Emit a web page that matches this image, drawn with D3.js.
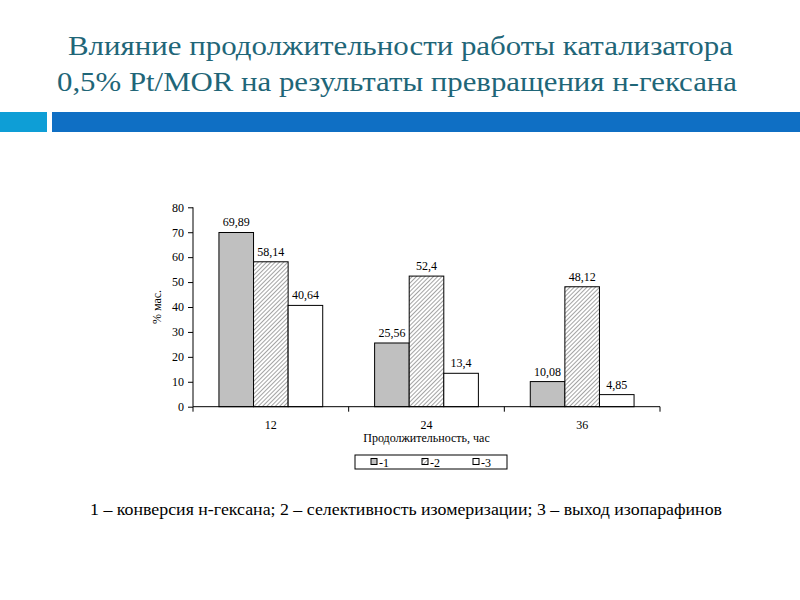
<!DOCTYPE html>
<html>
<head>
<meta charset="utf-8">
<script src="https://cdn.jsdelivr.net/npm/d3@7"></script>
<style>
    body { margin: 0; background: #fff; }
    svg { display: block; }
    svg text { font-family: "Liberation Serif", "Times New Roman", "DejaVu Serif", serif; }
</style>
</head>
<body>
<svg id="chart" width="800" height="600"></svg>
<script>
var categories = ["12", "24", "36"];
var seriesNames = ["-1", "-2", "-3"];
var conversion = [69.89, 25.56, 10.08];
var selectivity = [58.14, 52.4, 48.12];
var isoYield = [40.64, 13.4, 4.85];
var yTicks = [0, 10, 20, 30, 40, 50, 60, 70, 80];
var valueLabels = [
    ["69,89", "25,56", "10,08"],
    ["58,14", "52,4", "48,12"],
    ["40,64", "13,4", "4,85"]
];

(function() {
    var series = [conversion, selectivity, isoYield];
    var svg = d3.select("#chart");
    var fs = 12;

    // title
    var titleLines = [
        { text: "Влияние продолжительности работы катализатора", x: 68, y: 55, w: 665 },
        { text: "0,5% Pt/MOR на результаты превращения н-гексана", x: 57, y: 91, w: 680 }
    ];
    svg.selectAll("text.title")
        .data(titleLines)
        .enter().append("text")
        .attr("class", "title")
        .attr("x", function(d) { return d.x; })
        .attr("y", function(d) { return d.y; })
        .attr("textLength", function(d) { return d.w; })
        .attr("lengthAdjust", "spacingAndGlyphs")
        .attr("font-size", 28)
        .attr("fill", "#1f6678")
        .text(function(d) { return d.text; });

    // header stripe
    svg.append("rect").attr("x", 0).attr("y", 112).attr("width", 47).attr("height", 20).attr("fill", "#0e9ed6");
    svg.append("rect").attr("x", 52).attr("y", 112).attr("width", 748).attr("height", 20).attr("fill", "#0f6fc4");

    // hatch pattern
    var defs = svg.append("defs");
    var pat = defs.append("pattern")
        .attr("id", "hatch")
        .attr("patternUnits", "userSpaceOnUse")
        .attr("width", 3)
        .attr("height", 3)
        .attr("patternTransform", "rotate(45)");
    pat.append("rect").attr("width", 3).attr("height", 3).attr("fill", "#fff");
    pat.append("line")
        .attr("x1", 0.5).attr("y1", 0).attr("x2", 0.5).attr("y2", 3)
        .attr("stroke", "#9a9a9a").attr("stroke-width", 0.9);

    var fills = ["#c0c0c0", "url(#hatch)", "#ffffff"];

    // scales
    var plotLeft = 193, plotRight = 660, plotTop = 207.3, plotBottom = 406.7;

    var x0 = d3.scaleBand().domain(categories).range([plotLeft, plotRight]).padding(0);
    var x1 = d3.scaleBand().domain(d3.range(series.length)).range([0, x0.bandwidth()])
        .paddingInner(0).paddingOuter(0.75);
    var y = d3.scaleLinear().domain([0, 80]).range([plotBottom, plotTop]);

    var g = svg.append("g");

    // bars
    var groups = g.selectAll("g.cat")
        .data(categories)
        .enter().append("g")
        .attr("class", "cat")
        .attr("transform", function(d) { return "translate(" + x0(d) + ",0)"; });

    groups.each(function(cat, ci) {
        var cg = d3.select(this);
        series.forEach(function(s, si) {
            cg.append("rect")
                .attr("x", x1(si))
                .attr("y", y(s[ci]))
                .attr("width", x1.bandwidth())
                .attr("height", y(0) - y(s[ci]))
                .attr("fill", fills[si])
                .attr("stroke", "#000")
                .attr("stroke-width", 1);
            cg.append("text")
                .attr("x", x1(si) + x1.bandwidth() / 2)
                .attr("y", y(s[ci]) - 6)
                .attr("text-anchor", "middle")
                .attr("font-size", fs)
                .text(valueLabels[si][ci]);
        });
    });

    // y axis
    var yAxis = d3.axisLeft(y).tickValues(yTicks).tickSize(5).tickPadding(4);
    var ya = g.append("g")
        .attr("transform", "translate(" + plotLeft + ",0)")
        .call(yAxis);
    ya.attr("font-family", null).attr("font-size", fs);
    ya.select(".domain").attr("d", "M0," + plotTop + "V" + plotBottom);
    ya.selectAll("text").attr("fill", "#000");

    // x axis: line with ticks at category boundaries
    var xa = g.append("g");
    xa.append("line")
        .attr("x1", plotLeft).attr("x2", plotRight).attr("y1", plotBottom).attr("y2", plotBottom)
        .attr("stroke", "#000");
    var bounds = categories.map(function(c) { return x0(c); }).concat([plotRight]);
    xa.selectAll("line.tick")
        .data(bounds)
        .enter().append("line")
        .attr("class", "tick")
        .attr("x1", function(d) { return d; })
        .attr("x2", function(d) { return d; })
        .attr("y1", plotBottom)
        .attr("y2", plotBottom + 5)
        .attr("stroke", "#000");
    xa.selectAll("text.cat")
        .data(categories)
        .enter().append("text")
        .attr("class", "cat")
        .attr("x", function(d) { return x0(d) + x0.bandwidth() / 2; })
        .attr("y", 429)
        .attr("text-anchor", "middle")
        .attr("font-size", fs)
        .text(function(d) { return d; });

    // axis titles
    g.append("text")
        .attr("x", (plotLeft + plotRight) / 2)
        .attr("y", 442)
        .attr("text-anchor", "middle")
        .attr("font-size", fs)
        .text("Продолжительность, час");

    g.append("text")
        .attr("transform", "translate(161," + (plotTop + plotBottom) / 2 + ") rotate(-90)")
        .attr("text-anchor", "middle")
        .attr("font-size", fs)
        .text("% мас.");

    // legend
    var legend = g.append("g");
    legend.append("rect")
        .attr("x", 355).attr("y", 455).attr("width", 152).attr("height", 14)
        .attr("fill", "#fff").attr("stroke", "#000");
    var lx = d3.scalePoint().domain(d3.range(seriesNames.length)).range([371, 473]);
    seriesNames.forEach(function(name, i) {
        legend.append("rect")
            .attr("x", lx(i)).attr("y", 458.5).attr("width", 6).attr("height", 6)
            .attr("fill", fills[i]).attr("stroke", "#000");
        legend.append("text")
            .attr("x", lx(i) + 8).attr("y", 466.5)
            .attr("font-size", fs)
            .text(name);
    });

    // caption
    svg.append("text")
        .attr("x", 406)
        .attr("y", 515)
        .attr("text-anchor", "middle")
        .attr("textLength", 632)
        .attr("lengthAdjust", "spacingAndGlyphs")
        .attr("font-size", 16)
        .text("1 – конверсия н-гексана; 2 – селективность изомеризации; 3 – выход изопарафинов");
})();
</script>
</body>
</html>
